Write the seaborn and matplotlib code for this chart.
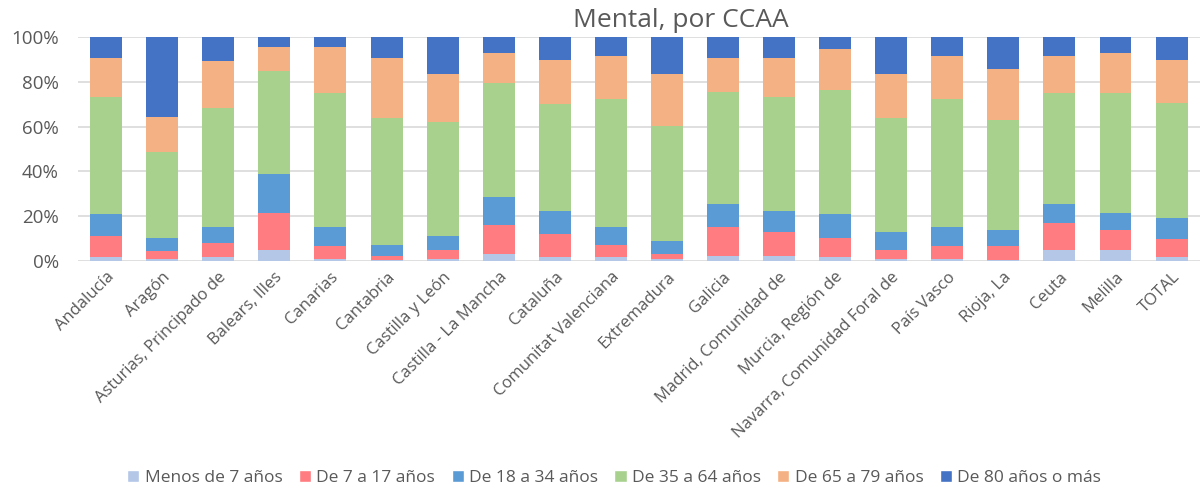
import matplotlib.pyplot as plt
import seaborn as sns
import pandas as pd
import numpy as np
from matplotlib.patches import Patch

regions = ['Andalucía', 'Aragón', 'Asturias, Principado de', 'Balears, Illes', 'Canarias',
           'Cantabria', 'Castilla y León', 'Castilla - La Mancha', 'Cataluña',
           'Comunitat Valenciana', 'Extremadura', 'Galicia', 'Madrid, Comunidad de',
           'Murcia, Región de', 'Navarra, Comunidad Foral de', 'País Vasco', 'Rioja, La',
           'Ceuta', 'Melilla', 'TOTAL']

age_groups = ['Menos de 7 años', 'De 7 a 17 años', 'De 18 a 34 años',
              'De 35 a 64 años', 'De 65 a 79 años', 'De 80 años o más']

# percentage of each age group per region
menos_7 = [1.6, 0.9, 1.6, 4.9, 0.7, 0.3, 0.7, 3.1, 1.6, 1.6, 0.7, 2.2, 2.2, 1.6, 0.7, 0.7, 0.2, 4.9, 4.9, 1.6]
de_7_17 = [9.6, 3.3, 6.5, 16.6, 5.7, 1.9, 4.2, 12.9, 10.5, 5.6, 2.4, 12.9, 10.6, 8.7, 4.2, 5.7, 6.2, 11.8, 8.7, 8.0]
de_18_34 = [9.5, 6.1, 7.0, 17.3, 8.5, 4.8, 6.0, 12.5, 10.0, 7.7, 5.6, 10.1, 9.3, 10.4, 7.8, 8.5, 7.2, 8.5, 7.7, 9.5]
de_35_64 = [52.4, 38.4, 53.3, 46.1, 59.9, 56.6, 51.2, 50.9, 47.9, 57.5, 51.6, 50.3, 50.9, 55.7, 50.9, 57.5, 49.4, 49.6, 53.5, 51.6]
de_65_79 = [17.5, 15.6, 20.7, 10.6, 20.7, 27.0, 21.3, 13.6, 19.9, 19.1, 23.1, 15.1, 17.6, 18.1, 19.8, 19.1, 22.8, 16.7, 18.2, 19.2]
de_80 = [9.4, 35.7, 10.9, 4.5, 4.5, 9.4, 16.6, 7.0, 10.1, 8.5, 16.6, 9.4, 9.4, 5.5, 16.6, 8.5, 14.2, 8.5, 7.0, 10.1]

colors = ['#b4c7e7', '#ff7c80', '#5b9bd5', '#a9d18e', '#f4b183', '#4472c4']

df = pd.DataFrame({'region': regions, age_groups[0]: menos_7, age_groups[1]: de_7_17,
                   age_groups[2]: de_18_34, age_groups[3]: de_35_64,
                   age_groups[4]: de_65_79, age_groups[5]: de_80})
cum = df[age_groups].cumsum(axis=1)
cum = cum.div(cum[age_groups[-1]], axis=0) * 100
cum['region'] = regions

sns.set_style('white')
plt.rcParams['font.family'] = ['Open Sans', 'DejaVu Sans']

fig = plt.figure(figsize=(12.02, 4.93), dpi=100)
ax = fig.add_axes([0.065, 0.471, 0.933, 0.454])

# draw from the top layer down so smaller cumulative bars sit in front
for grp, col in reversed(list(zip(age_groups, colors))):
    sns.barplot(data=cum, x='region', y=grp, color=col, width=0.57,
                saturation=1, ax=ax, linewidth=0)

ax.set_ylim(0, 100)
ax.set_xlim(-0.5, len(regions) - 0.5)
ax.set_yticks(np.arange(0, 101, 20))
ax.set_yticklabels([f'{v}%' for v in range(0, 101, 20)], fontsize=13.5, color='#595959')
ax.set_xticks(range(len(regions)))
ax.set_xticklabels(regions, rotation=45, ha='right', rotation_mode='anchor',
                   fontsize=12, color='#595959')
ax.tick_params(axis='y', length=0, pad=14)
ax.tick_params(axis='x', length=0, pad=6)
ax.grid(axis='y', color='#d9d9d9', linewidth=1.2)
ax.set_axisbelow(True)
for s in ax.spines.values():
    s.set_visible(False)
ax.set_xlabel('')
ax.set_ylabel('')

fig.text(0.566, 0.958, 'Mental, por CCAA', ha='center', va='center',
         fontsize=19, color='#595959')

handles = [Patch(facecolor=c, label=g) for g, c in zip(age_groups, colors)]
fig.legend(handles=handles, loc='center', bbox_to_anchor=(0.511, 0.03), ncol=6,
           frameon=False, fontsize=12.5, handlelength=0.7, handleheight=0.7,
           handletextpad=0.3, columnspacing=0.95, labelcolor='#595959')

fig.savefig('out.png', dpi=100)
